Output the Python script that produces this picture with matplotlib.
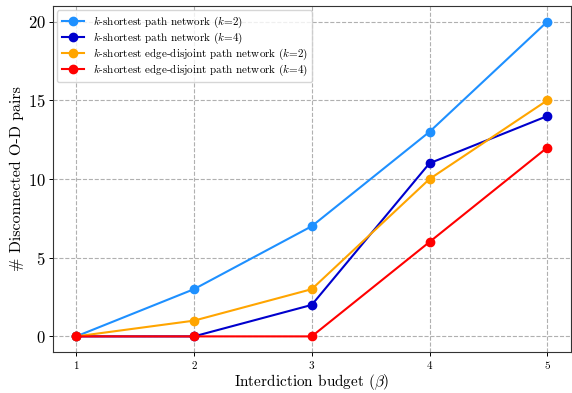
import matplotlib
matplotlib.use("Agg")
import matplotlib.pyplot as plt

plt.rcParams['font.family'] = 'serif'
plt.rcParams['font.serif'] = ['cmr10']
plt.rcParams['mathtext.fontset'] = 'cm'
plt.rcParams['axes.formatter.use_mathtext'] = True

budget = [1, 2, 3, 4, 5]
ksp_k2 = [0, 3, 7, 13, 20]
ksp_k4 = [0, 0, 2, 11, 14]
ked_k2 = [0, 1, 3, 10, 15]
ked_k4 = [0, 0, 0, 6, 12]

labels = [r"$k$-shortest path network ($k$=2)",
          r"$k$-shortest path network ($k$=4)",
          r"$k$-shortest edge-disjoint path network ($k$=2)",
          r"$k$-shortest edge-disjoint path network ($k$=4)"]
colors = ['#1E90FF', '#0000CD', '#FFA500', '#FF0000']

fig = plt.figure(figsize=(5.72, 3.93), dpi=100)
ax = fig.add_axes([0.092, 0.104, 0.906, 0.881])

for ys, lab, c in zip([ksp_k2, ksp_k4, ked_k2, ked_k4], labels, colors):
    ax.plot(budget, ys, marker='o', color=c, label=lab, markersize=6, linewidth=1.5)

ax.set_xticks(budget)
ax.set_yticks([0, 5, 10, 15, 20])
ax.tick_params(axis='both', length=3, width=0.7, pad=2)
ax.tick_params(axis='x', labelsize=8)
ax.tick_params(axis='y', labelsize=12)
ax.set_xlabel(r"Interdiction budget ($\beta$)", fontsize=11, labelpad=1)
ax.set_ylabel(r"# Disconnected O-D pairs", fontsize=11.5, labelpad=3)
ax.grid(True, linestyle='--', color='#b0b0b0', linewidth=0.8)
for s in ax.spines.values():
    s.set_color('#333333')
ax.legend(loc='upper left', fontsize=8, labelspacing=0.05, borderaxespad=0.4)

fig.savefig('out.png', dpi=100)
